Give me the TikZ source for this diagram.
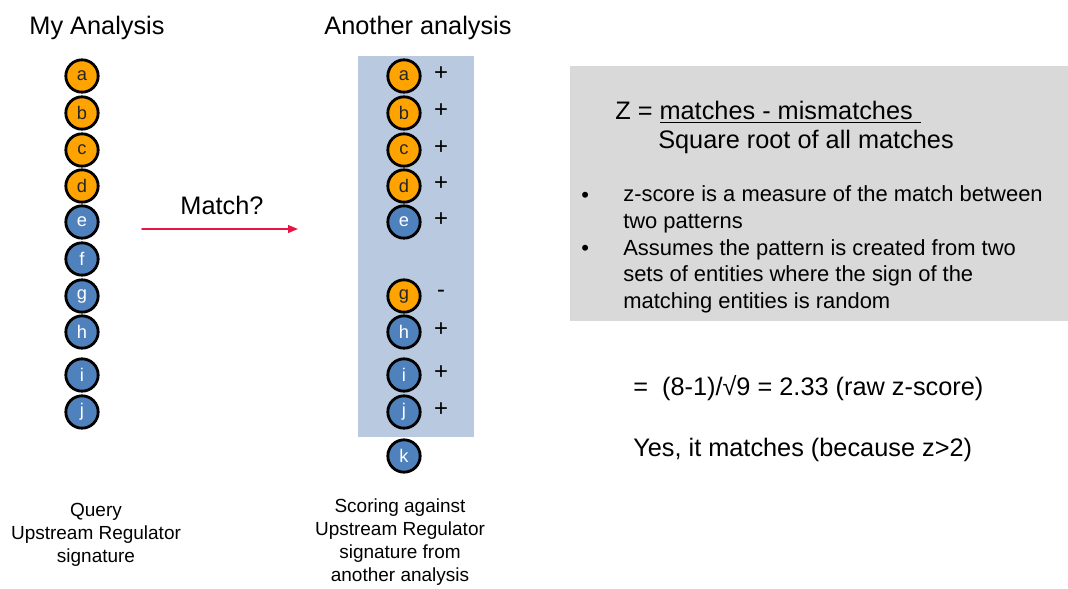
\documentclass[tikz,border=0pt]{standalone}
\usepackage{fontspec}
\setmainfont{Liberation Sans}
\usepackage{xcolor}
\usetikzlibrary{arrows.meta}

\definecolor{orng}{RGB}{255,163,0}
\definecolor{blu}{RGB}{79,129,189}
\definecolor{panel}{RGB}{185,201,223}
\definecolor{boxgray}{RGB}{217,217,217}
\definecolor{arrred}{RGB}{232,20,70}

\begin{document}
\begin{tikzpicture}[
		x=0.025cm,
		y=-0.025cm,
		line cap=round,
		line join=round,
		dot/.style={
			circle,
			draw=black,
			line width=2pt,
			minimum size=23,
			inner sep=0pt,
			font=\fontsize{13}{14}\selectfont
		},
		orngdot/.style={dot,fill=orng,text=black!85},
		bluedot/.style={dot,fill=blu,text=white},
		sign/.style={font=\fontsize{17}{20}\selectfont},
		big/.style={font=\fontsize{18}{21}\selectfont},
		small/.style={font=\fontsize{13.5}{16.2}\selectfont,align=center},
		bullettxt/.style={font=\fontsize{15.6}{18.8}\selectfont,align=left,anchor=west,inner sep=0pt}
		]
		
		% canvas
		\useasboundingbox (0,0) rectangle (1068,588);
		
		% backgrounds
		\fill[panel] (358,56) rectangle (474,437);
		\fill[boxgray] (570,66) rectangle (1068,321);
		
		% titles
		\node[big] (myttl) at (97,28) {My Analysis};
		\node[big] (anttl) at (418,28) {Another analysis};
		
		% my analysis column
		\foreach \n/\y/\s in {a/76/orngdot,b/113/orngdot,c/150/orngdot,d/186/orngdot,
			e/222/bluedot,f/259/bluedot,g/296/bluedot,h/332/bluedot,i/375/bluedot,j/412/bluedot}
		\node[\s] (L-\n) at (82,\y) {\n};
		
		% other analysis column with signs
		\foreach \n/\y/\s/\p in {a/76/orngdot/+,b/113/orngdot/+,c/150/orngdot/+,d/186/orngdot/+,
			e/222/bluedot/+,g/296/orngdot/-,h/332/bluedot/+,i/375/bluedot/+,j/412/bluedot/+}
		{
			\node[\s] (R-\n) at (404,\y) {\n};
			\node[sign] (S-\n) at (441,\y-2) {\p};
		}
		\node[bluedot] (R-k) at (404,456) {k};
		
		% match arrow
		\node[big] (match) at (222,205) {Match?};
		\coordinate (arrS) at (142,229);
		\coordinate (arrE) at (298,229);
		\draw[arrred,line width=1.1pt,-{Triangle[length=7pt,width=5.5pt]}] (arrS) -- (arrE);
		
		% captions
		\node[small] (qcap) at (96,535) {Query\\Upstream Regulator\\signature};
		\node[small] (scap) at (400,542) {Scoring against\\Upstream Regulator\\signature from\\another analysis};
		
		% formula
		\node[big,anchor=west,inner sep=0pt] (zeq) at (615,112) {Z = \underline{matches - mismatches\,\,}};
		\node[big,anchor=west,inner sep=0pt] (zden) at (658,142) {Square root of all matches};
		
		% bullets
		\node[bullettxt] (b1dot) at (581,197) {•};
		\node[bullettxt] (b1) at (623,209.5) {z-score is a measure of the match between\\two patterns};
		\node[bullettxt] (b2dot) at (581,250) {•};
		\node[bullettxt] (b2) at (623,276) {Assumes the pattern is created from two\\sets of entities where the sign of the\\matching entities is random};
		
		% result
		\node[big,anchor=west,inner sep=0pt] (res) at (633,388) {=\ \ (8-1)/√9 = 2.33 (raw z-score)};
		\node[big,anchor=west,inner sep=0pt] (yes) at (633,450) {Yes, it matches (because z>2)};
	\end{tikzpicture}
\end{document}
